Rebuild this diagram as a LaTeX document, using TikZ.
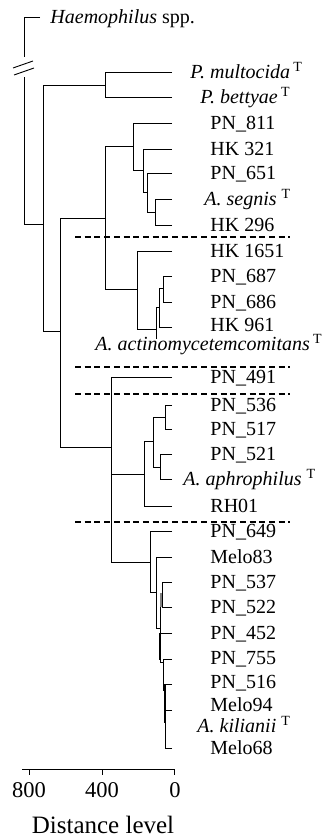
\documentclass[tikz,border=0pt]{standalone}
\usepackage{fontspec}
\setmainfont{Liberation Serif}
\begin{document}
\begin{tikzpicture}[x=1pt,y=-1pt, line width=0.9pt,
  lab/.style={font=\fontsize{20}{22}\selectfont, inner sep=0pt, text height=13.2pt, text depth=0pt, anchor=west},
  sep/.style={dash pattern=on 6pt off 3.7pt, line width=1.1pt},
  thk/.style={line width=2pt},
  ticklab/.style={font=\fontsize{22.5}{24}\selectfont, inner sep=0pt, text height=15pt, text depth=0pt}]
\useasboundingbox (0,0) rectangle (333,837);
% tips
\coordinate (tHae) at (40,17);
\coordinate (tMul) at (172,72);  \coordinate (tBet) at (172,97);
\coordinate (t811) at (172,123); \coordinate (t321) at (172,149);
\coordinate (t651) at (172,173); \coordinate (tSeg) at (172,199);
\coordinate (t296) at (172,225); \coordinate (t1651) at (172,251);
\coordinate (t687) at (172,276); \coordinate (t686) at (172,302);
\coordinate (t961) at (172,327); \coordinate (tAct) at (157,338);
\coordinate (t491) at (172,377); \coordinate (t536) at (172,405);
\coordinate (t517) at (172,429); \coordinate (t521) at (172,454);
\coordinate (tAph) at (172,479); \coordinate (tRH) at (172,506);
\coordinate (t649) at (172,531); \coordinate (tM83) at (172,557);
\coordinate (t537) at (172,582); \coordinate (t522) at (172,607);
\coordinate (t452) at (172,633); \coordinate (t755) at (172,659);
\coordinate (t516) at (172,684); \coordinate (tM94) at (172,710);
\coordinate (tKil) at (166,727); \coordinate (tM68) at (172,748);
% internal nodes
\coordinate (bk) at (24,57);   \coordinate (nR) at (24,77);
\coordinate (n43) at (43,224); \coordinate (nP) at (105,85);
\coordinate (n60) at (60,331); \coordinate (nA) at (105,218);
\coordinate (n133) at (133,146); \coordinate (n143) at (143,170);
\coordinate (n147) at (147,192); \coordinate (n155) at (155,212);
\coordinate (n137) at (137,289); \coordinate (n156) at (156,329);
\coordinate (n159) at (159,307); \coordinate (n163) at (163,288);
\coordinate (n111) at (111,447); \coordinate (n144) at (144,474);
\coordinate (n153) at (153,441); \coordinate (n165) at (165,417);
\coordinate (n160) at (160,467); \coordinate (n150) at (150,562);
\coordinate (n156b) at (156,592); \coordinate (n160c) at (160,628);
\coordinate (n162) at (162,595); \coordinate (n163b) at (163,662);
\coordinate (n165b) at (165,690);
% tree
\draw (tHae) -| (bk);
\draw (n43) -| (nR);
\coordinate (b1a) at (13,68); \coordinate (b1b) at (33,61);
\coordinate (b2a) at (14,75); \coordinate (b2b) at (34,68);
\draw (b1a) -- (b1b); \draw (b2a) -- (b2b);
\draw (nP) -| (n43); \draw (n60) -| (n43);
\draw (tMul) -| (nP); \draw (tBet) -| (nP);
\draw (nA) -| (n60); \draw (n111) -| (n60);
\draw (n133) -| (nA); \draw (n137) -| (nA);
\draw (t811) -| (n133); \draw (n143) -| (n133);
\draw (t321) -| (n143); \draw (n147) -| (n143);
\draw (t651) -| (n147); \draw (n155) -| (n147);
\draw (tSeg) -| (n155); \draw (t296) -| (n155);
\draw (t1651) -| (n137); \draw (n156) -| (n137);
\draw (n159) -| (n156); \draw (tAct) -| (n156);
\draw (n163) -| (n159); \draw (t961) -| (n159);
\draw (t687) -| (n163); \draw (t686) -| (n163);
\draw (t491) -| (n111); \draw (n144) -| (n111); \draw (n150) -| (n111);
\draw (n153) -| (n144); \draw (tRH) -| (n144);
\draw (n165) -| (n153); \draw (n160) -| (n153);
\draw (t536) -| (n165); \draw (t517) -| (n165);
\draw (t521) -| (n160); \draw (tAph) -| (n160);
\draw (t649) -| (n150); \draw (n156b) -| (n150);
\draw (tM83) -| (n156b); \draw (n160c) -| (n156b);
\draw (n162) -| (n160c); \draw (t452) -| (n160c); \draw (n163b) -| (n160c);
\draw (t537) -| (n162); \draw (t522) -| (n162);
\draw (t755) -| (n163b); \draw (n165b) -| (n163b);
\draw (t516) -| (n165b); \draw (tM94) -| (n165b); \draw (tKil) -| (n165b); \draw (tM68) -| (n165b);
% thick overlays
\coordinate (g1a) at (161,593); \coordinate (g1b) at (161,607);
\coordinate (g2a) at (160,633); \coordinate (g2b) at (160,660);
\coordinate (g3a) at (165,684); \coordinate (g3b) at (165,723);
\draw[thk, gray] (g1a) -- (g1b);
\draw[thk] (g2a) -- (g2b);
\draw[thk] (g3a) -- (g3b);
% dashed separators
\coordinate (d1a) at (75,237); \coordinate (d1b) at (290,237);
\coordinate (d2a) at (75,367); \coordinate (d2b) at (290,367);
\coordinate (d3a) at (75,394); \coordinate (d3b) at (290,394);
\coordinate (d4a) at (75,522); \coordinate (d4b) at (290,522);
\draw[sep] (d1a) -- (d1b);
\draw[sep] (d2a) -- (d2b);
\draw[sep] (d3a) -- (d3b);
\draw[sep] (d4a) -- (d4b);
% labels
\node[lab] (Lhae) at (50,17) {\textit{Haemophilus} spp.};
\node[lab] (Lmul) at (190,72) {\textit{P. multocida}\,\textsuperscript{T}};
\node[lab] (Lbet) at (200,97) {\textit{P. bettyae}\,\textsuperscript{T}};
\node[lab] (L811) at (210,123) {PN\_811};
\node[lab] (L321) at (210,149) {HK 321};
\node[lab] (L651) at (210,173) {PN\_651};
\node[lab] (Lseg) at (204,199) {\textit{A. segnis} \textsuperscript{T}};
\node[lab] (L296) at (210,225) {HK 296};
\node[lab] (L1651) at (210,251) {HK 1651};
\node[lab] (L687) at (210,276) {PN\_687};
\node[lab] (L686) at (210,302) {PN\_686};
\node[lab] (L961) at (210,325) {HK 961};
\node[lab] (Lact) at (95,344) {\textit{A. actinomycetemcomitans}\,\smash{\textsuperscript{T}}};
\node[lab] (L491) at (210,377) {PN\_491};
\node[lab] (L536) at (210,405) {PN\_536};
\node[lab] (L517) at (210,429) {PN\_517};
\node[lab] (L521) at (210,454) {PN\_521};
\node[lab] (Laph) at (183,479) {\textit{A. aphrophilus} \textsuperscript{T}};
\node[lab] (LRH) at (210,506) {RH01};
\node[lab] (L649) at (210,531) {PN\_649};
\node[lab] (LM83) at (210,557) {Melo83};
\node[lab] (L537) at (210,582) {PN\_537};
\node[lab] (L522) at (210,607) {PN\_522};
\node[lab] (L452) at (210,633) {PN\_452};
\node[lab] (L755) at (210,658) {PN\_755};
\node[lab] (L516) at (210,682) {PN\_516};
\node[lab] (LM94) at (210,705) {Melo94};
\node[lab] (Lkil) at (197,726) {\textit{A. kilianii} \textsuperscript{T}};
\node[lab] (LM68) at (210,748) {Melo68};
% axis
\coordinate (ax0) at (22,769); \coordinate (ax1) at (174,769);
\coordinate (k8) at (29,769); \coordinate (k4) at (102,769); \coordinate (k0) at (174,769);
\coordinate (k8b) at (29,775); \coordinate (k4b) at (102,775); \coordinate (k0b) at (174,775);
\draw (ax0) -- (ax1);
\draw (k8) -- (k8b); \draw (k4) -- (k4b); \draw (k0) -- (k0b);
\node[ticklab] (T8) at (29,789.5) {800};
\node[ticklab] (T4) at (102,789.5) {400};
\node[ticklab] (T0) at (175,789.5) {0};
\node[font=\fontsize{25}{27}\selectfont, inner sep=0pt, text height=17pt, text depth=0pt] (Dl) at (103,824.5) {Distance level};
\end{tikzpicture}
\end{document}
